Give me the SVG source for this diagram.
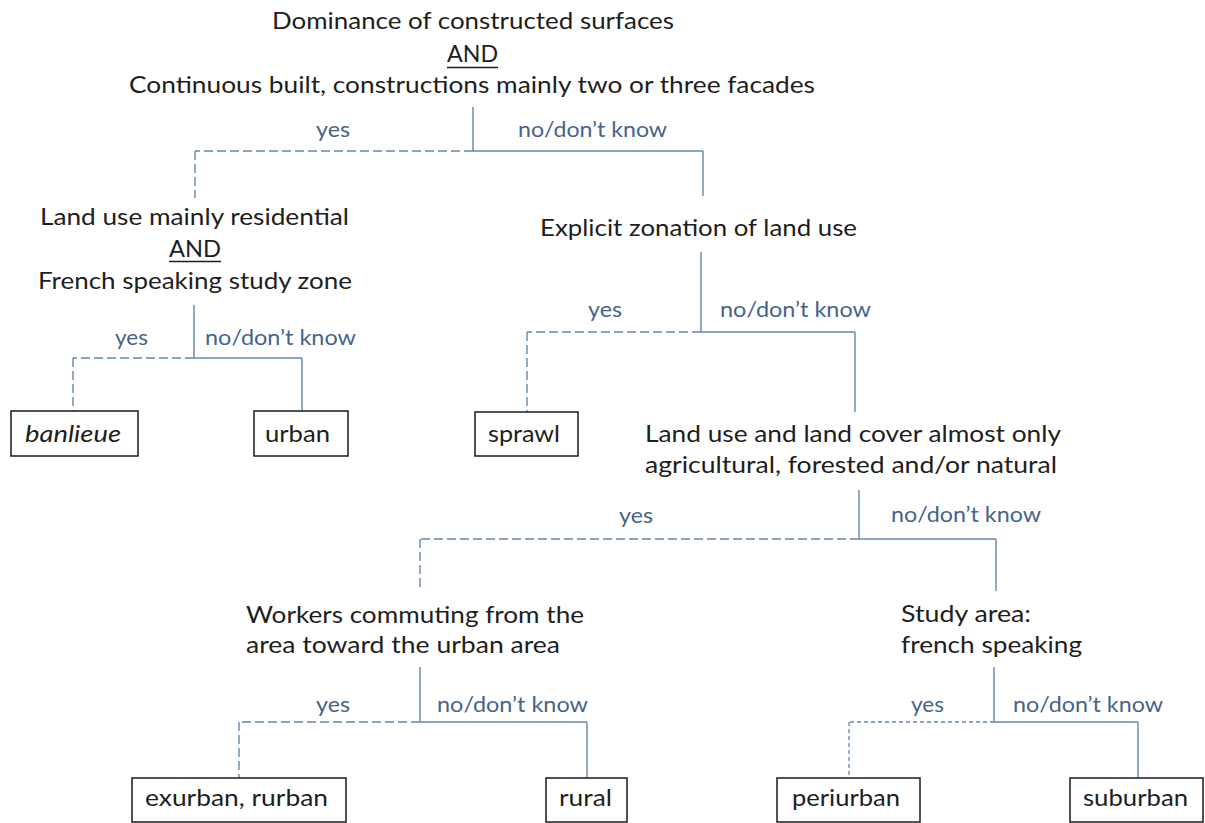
<svg xmlns="http://www.w3.org/2000/svg" width="1205" height="823" viewBox="0 0 1205 823">
  <style>
    .q { font-family: Lato, "Open Sans", "Liberation Sans", sans-serif; font-size: 23px; fill: #1e1e1e; }
    .lbl { font-family: Lato, "Open Sans", "Liberation Sans", sans-serif; font-size: 22px; fill: #46648a; }
    .leaf rect { fill: #ffffff; stroke: #1a1a1a; stroke-width: 1.5; }
    .solid { fill: none; stroke: #6586ad; stroke-width: 1.4; }
    .dash { fill: none; stroke: #6586ad; stroke-width: 1.4; stroke-dasharray: 9 4; }
    .dash-fine { fill: none; stroke: #6586ad; stroke-width: 1.3; stroke-dasharray: 4 3; }
    .ul { stroke: #1e1e1e; stroke-width: 1.3; }
  </style>
  <rect width="1205" height="823" fill="#ffffff"/>

  <!-- connectors -->
  <g id="connectors">
    <!-- root -->
    <line class="solid" x1="473" y1="107" x2="473" y2="151"/>
    <line class="dash" x1="473" y1="151" x2="195" y2="151"/>
    <line class="dash" x1="195" y1="151" x2="195" y2="198"/>
    <line class="solid" x1="473" y1="151" x2="703" y2="151"/>
    <line class="solid" x1="703" y1="151" x2="703" y2="196"/>
    <!-- residential -->
    <line class="solid" x1="194" y1="305" x2="194" y2="358"/>
    <line class="dash" x1="194" y1="358" x2="73" y2="358"/>
    <line class="dash" x1="73" y1="358" x2="73" y2="411"/>
    <line class="solid" x1="194" y1="358" x2="302" y2="358"/>
    <line class="solid" x1="302" y1="358" x2="302" y2="411"/>
    <!-- zonation -->
    <line class="solid" x1="701" y1="252" x2="701" y2="332"/>
    <line class="dash" x1="701" y1="332" x2="527" y2="332"/>
    <line class="dash" x1="527" y1="332" x2="527" y2="412"/>
    <line class="solid" x1="701" y1="332" x2="855" y2="332"/>
    <line class="solid" x1="855" y1="332" x2="855" y2="412"/>
    <!-- land cover -->
    <line class="solid" x1="859" y1="490" x2="859" y2="539"/>
    <line class="dash" x1="859" y1="539" x2="420" y2="539"/>
    <line class="dash" x1="420" y1="539" x2="420" y2="590"/>
    <line class="solid" x1="859" y1="539" x2="996" y2="539"/>
    <line class="solid" x1="996" y1="539" x2="996" y2="591"/>
    <!-- commuting -->
    <line class="solid" x1="420" y1="667" x2="420" y2="722"/>
    <line class="dash" x1="420" y1="722" x2="239" y2="722"/>
    <line class="dash" x1="239" y1="722" x2="239" y2="778"/>
    <line class="solid" x1="420" y1="722" x2="587" y2="722"/>
    <line class="solid" x1="587" y1="722" x2="587" y2="778"/>
    <!-- french speaking -->
    <line class="solid" x1="994" y1="667" x2="994" y2="722"/>
    <line class="dash-fine" x1="994" y1="722" x2="849" y2="722"/>
    <line class="dash-fine" x1="849" y1="722" x2="849" y2="778"/>
    <line class="solid" x1="994" y1="722" x2="1138" y2="722"/>
    <line class="solid" x1="1138" y1="722" x2="1138" y2="778"/>

    <!-- branch labels -->
    <text class="lbl" x="316" y="137" textLength="34" lengthAdjust="spacingAndGlyphs">yes</text>
    <text class="lbl" x="518" y="137" textLength="149" lengthAdjust="spacingAndGlyphs">no/don’t know</text>
    <text class="lbl" x="115" y="345" textLength="33" lengthAdjust="spacingAndGlyphs">yes</text>
    <text class="lbl" x="205" y="345" textLength="151" lengthAdjust="spacingAndGlyphs">no/don’t know</text>
    <text class="lbl" x="588" y="317" textLength="34" lengthAdjust="spacingAndGlyphs">yes</text>
    <text class="lbl" x="720" y="317" textLength="151" lengthAdjust="spacingAndGlyphs">no/don’t know</text>
    <text class="lbl" x="619" y="523" textLength="34" lengthAdjust="spacingAndGlyphs">yes</text>
    <text class="lbl" x="891" y="522" textLength="150" lengthAdjust="spacingAndGlyphs">no/don’t know</text>
    <text class="lbl" x="316" y="712" textLength="34" lengthAdjust="spacingAndGlyphs">yes</text>
    <text class="lbl" x="437" y="712" textLength="151" lengthAdjust="spacingAndGlyphs">no/don’t know</text>
    <text class="lbl" x="911" y="712" textLength="33" lengthAdjust="spacingAndGlyphs">yes</text>
    <text class="lbl" x="1013" y="712" textLength="150" lengthAdjust="spacingAndGlyphs">no/don’t know</text>
  </g>

  <!-- decision nodes -->
  <g id="q-built">
    <text class="q" x="272" y="29" textLength="402" lengthAdjust="spacingAndGlyphs">Dominance of constructed surfaces</text>
    <text class="q" x="447" y="62" textLength="51" lengthAdjust="spacingAndGlyphs">AND</text>
    <line class="ul" x1="447" y1="67.5" x2="498" y2="67.5"/>
    <text class="q" x="129" y="93" textLength="686" lengthAdjust="spacingAndGlyphs">Continuous built, constructions mainly two or three facades</text>
  </g>
  <g id="q-residential">
    <text class="q" x="40" y="225" textLength="309" lengthAdjust="spacingAndGlyphs">Land use mainly residential</text>
    <text class="q" x="169" y="257" textLength="52" lengthAdjust="spacingAndGlyphs">AND</text>
    <line class="ul" x1="169" y1="261.5" x2="221" y2="261.5"/>
    <text class="q" x="38" y="289" textLength="314" lengthAdjust="spacingAndGlyphs">French speaking study zone</text>
  </g>
  <g id="q-zonation">
    <text class="q" x="540" y="236" textLength="317" lengthAdjust="spacingAndGlyphs">Explicit zonation of land use</text>
  </g>
  <g id="q-landcover">
    <text class="q" x="645" y="442" textLength="416" lengthAdjust="spacingAndGlyphs">Land use and land cover almost only</text>
    <text class="q" x="645" y="473" textLength="412" lengthAdjust="spacingAndGlyphs">agricultural, forested and/or natural</text>
  </g>
  <g id="q-commuting">
    <text class="q" x="246" y="623" textLength="338" lengthAdjust="spacingAndGlyphs">Workers commuting from the</text>
    <text class="q" x="246" y="653" textLength="314" lengthAdjust="spacingAndGlyphs">area toward the urban area</text>
  </g>
  <g id="q-french">
    <text class="q" x="901" y="622" textLength="130" lengthAdjust="spacingAndGlyphs">Study area:</text>
    <text class="q" x="901" y="653" textLength="181" lengthAdjust="spacingAndGlyphs">french speaking</text>
  </g>

  <!-- leaf classes -->
  <g id="leaf-banlieue" class="leaf">
    <rect x="11" y="411" width="127" height="45"/>
    <text class="q" x="25" y="442" font-style="italic" textLength="96" lengthAdjust="spacingAndGlyphs">banlieue</text>
  </g>
  <g id="leaf-urban" class="leaf">
    <rect x="254" y="411" width="94" height="45"/>
    <text class="q" x="265" y="442" textLength="65" lengthAdjust="spacingAndGlyphs">urban</text>
  </g>
  <g id="leaf-sprawl" class="leaf">
    <rect x="475" y="412" width="103" height="44"/>
    <text class="q" x="488" y="442" textLength="72" lengthAdjust="spacingAndGlyphs">sprawl</text>
  </g>
  <g id="leaf-exurban" class="leaf">
    <rect x="132" y="778" width="214" height="44"/>
    <text class="q" x="145" y="806" textLength="183" lengthAdjust="spacingAndGlyphs">exurban, rurban</text>
  </g>
  <g id="leaf-rural" class="leaf">
    <rect x="546" y="778" width="81" height="44"/>
    <text class="q" x="559" y="806" textLength="53" lengthAdjust="spacingAndGlyphs">rural</text>
  </g>
  <g id="leaf-periurban" class="leaf">
    <rect x="777" y="778" width="143" height="44"/>
    <text class="q" x="792" y="806" textLength="108" lengthAdjust="spacingAndGlyphs">periurban</text>
  </g>
  <g id="leaf-suburban" class="leaf">
    <rect x="1070" y="778" width="133" height="44"/>
    <text class="q" x="1083" y="806" textLength="105" lengthAdjust="spacingAndGlyphs">suburban</text>
  </g>
</svg>
